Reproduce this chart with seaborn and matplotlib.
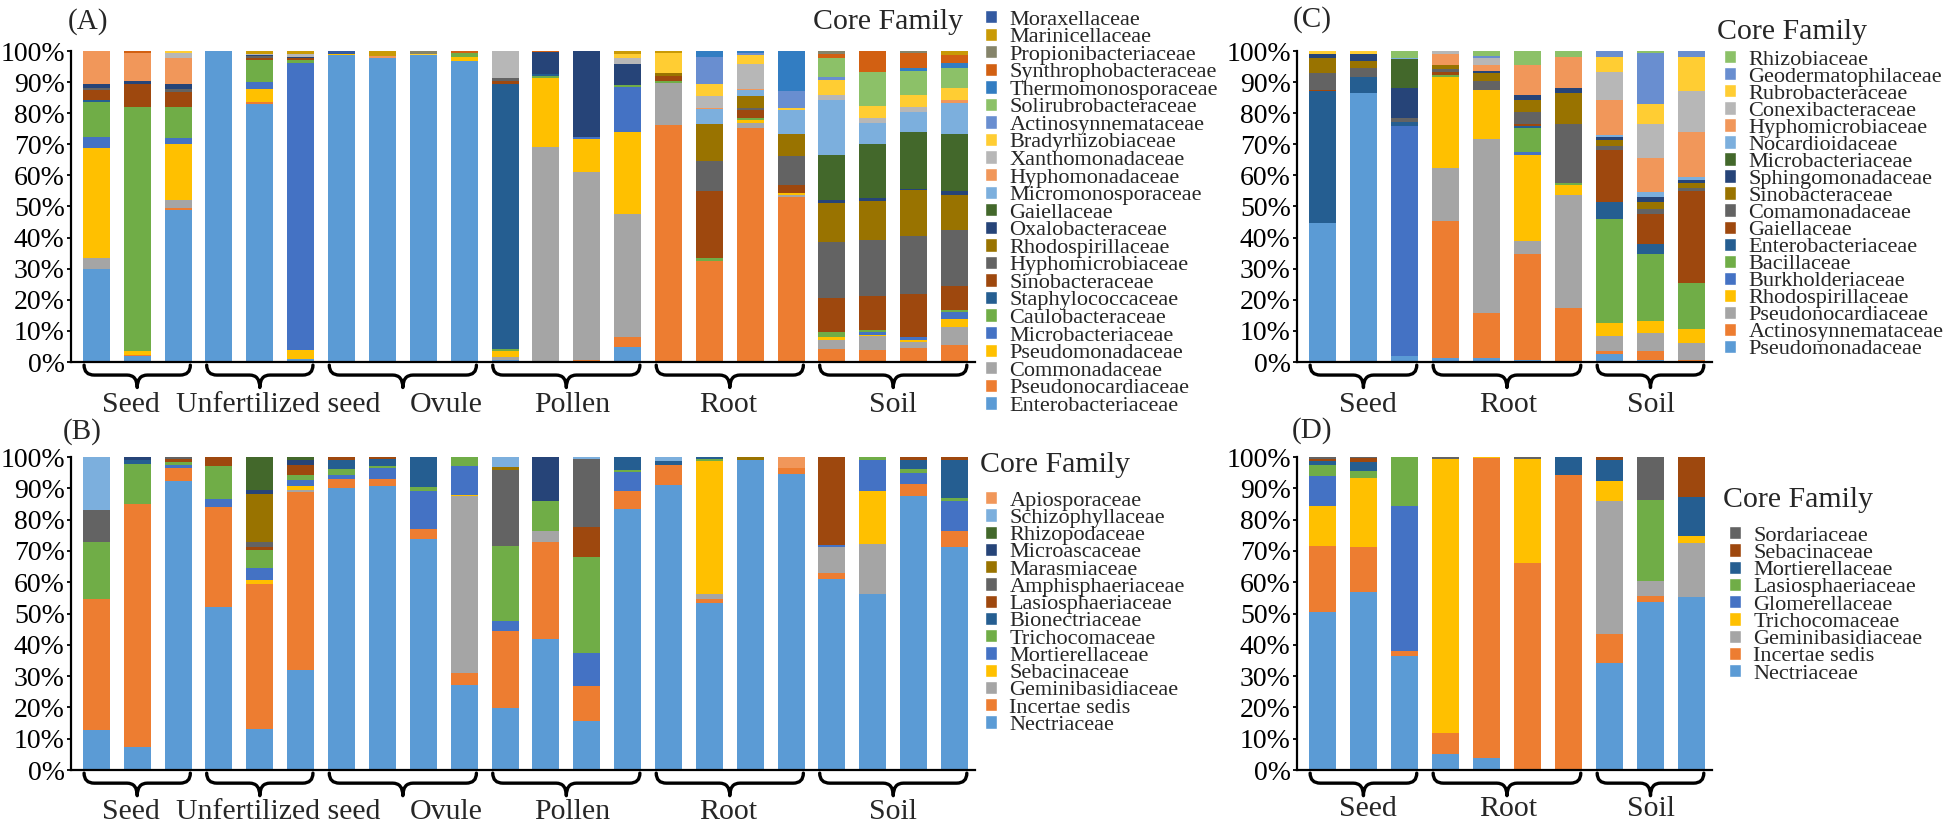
import pandas as pd
import seaborn as sns
import matplotlib.pyplot as plt
from matplotlib.patches import Patch, PathPatch
from matplotlib.path import Path
from matplotlib.transforms import blended_transform_factory

# ---- data (percent of reads), families listed bottom of the stack first ----
# (A) bacteria, 22 samples
bact_all = {
    "Enterobacteriaceae":    [30, 1.8, 49, 100, 82.8, 0.9, 98.6, 97.9, 98.6, 96.7, 0.5, 0, 0, 4.8, 0, 0, 0, 0, 0, 0, 0, 0],
    "Pseudonocardiaceae":    [0, 0.3, 0.6, 0, 0.8, 0, 0, 0, 0, 0, 0, 0, 0.5, 3.2, 76.3, 32.6, 75.4, 52.9, 4.3, 3.8, 4.5, 5.6],
    "Commonadaceae":         [3.4, 0.3, 2.4, 0, 0, 0, 0, 0, 0, 0, 1.0, 69.0, 60.7, 39.7, 13.5, 0, 1.6, 0.8, 2.9, 4.5, 1.8, 5.7],
    "Pseudomonadaceae":      [35.4, 1.2, 18.0, 0, 4.3, 3.1, 0.4, 0, 0, 1.4, 2.0, 22.4, 10.5, 26.1, 0, 0, 0.7, 0.5, 0.8, 0.5, 0.9, 2.6],
    "Microbacteriaceae":     [3.5, 0, 2.0, 0, 2.1, 92.2, 0, 0, 0, 0, 0, 0, 0.8, 14.7, 0, 0, 0, 0, 0, 0.8, 0.8, 2.3],
    "Caulobacteraceae":      [11.3, 78.4, 10.0, 0, 7.2, 0.9, 0, 0, 0, 1.1, 0.8, 0.5, 0, 0.5, 0.5, 0.8, 0.7, 0, 1.7, 0.8, 0, 0.4],
    "Staphylococcaceae":     [0.8, 0, 0, 0, 0, 0, 0, 0, 0, 0, 85.2, 0.6, 0, 0, 0, 0, 0, 0, 0, 0, 0, 0],
    "Sinobacteraceae":       [3.0, 7.5, 4.8, 0, 0.6, 0.5, 0, 0, 0, 0, 1.0, 0, 0, 0, 1.6, 21.7, 2.7, 2.7, 10.8, 10.9, 14.0, 7.9],
    "Hyphomicrobiaceae":     [0.8, 0, 1.1, 0, 0.5, 0, 0, 0, 0, 0, 0.8, 0, 0, 0, 0, 9.4, 0.5, 9.2, 18.0, 18.0, 18.5, 18.0],
    "Rhodospirillaceae":     [0, 0, 0, 0, 0, 0, 0, 0, 0, 0, 0, 0, 0, 0, 0.9, 11.9, 4.0, 7.2, 12.7, 12.4, 14.8, 11.3],
    "Oxalobacteraceae":      [1.2, 0.9, 1.4, 0, 0.4, 0.5, 0, 0, 0, 0, 0, 7.2, 27.5, 6.9, 0, 0, 0, 0, 0.8, 0.9, 0.4, 1.2],
    "Gaiellaceae":           [0, 0, 0, 0, 0, 0, 0, 0, 0, 0, 0, 0, 0, 0, 0, 0, 0, 0, 14.5, 17.5, 18.1, 18.2],
    "Micromonosporaceae":    [0, 0, 0, 0, 0, 0, 0, 0, 0, 0, 0, 0, 0, 0, 0, 4.8, 1.7, 7.7, 17.9, 6.9, 6.5, 10.0],
    "Hyphomonadaceae":       [10.6, 9.0, 8.3, 0, 0, 0, 0, 0.5, 0, 0, 0, 0, 0, 0, 0, 0.5, 0.5, 0, 0, 0, 0, 1.1],
    "Xanthomonadaceae":      [0, 0, 1.8, 0, 0.3, 0.8, 0, 0, 0, 0, 8.7, 0, 0, 1.9, 0, 3.8, 8.0, 0, 1.6, 1.6, 1.6, 0],
    "Bradyrhizobiaceae":     [0, 0, 0.6, 0, 0, 0, 0, 0, 0.4, 0, 0, 0, 0, 1.1, 6.7, 3.8, 2.8, 0.7, 4.8, 3.6, 3.8, 3.8],
    "Actinosynnemataceae":   [0, 0, 0, 0, 0, 0, 0, 0, 0, 0, 0, 0, 0, 0, 0, 8.9, 0.8, 5.4, 0.9, 0, 0, 0],
    "Solirubrobacteraceae":  [0, 0, 0, 0, 0, 0, 0, 0, 0, 0, 0, 0, 0, 0, 0, 0, 0, 0, 5.9, 11.0, 7.9, 6.5],
    "Thermomonosporaceae":   [0, 0, 0, 0, 0, 0, 0, 0, 0, 0, 0, 0, 0, 0, 0, 1.8, 0.6, 12.9, 0, 0, 0.8, 1.4],
    "Synthrophobacteraceae": [0, 0.6, 0, 0, 0, 0, 0, 0, 0, 0.8, 0, 0.3, 0, 0, 0, 0, 0, 0, 1.3, 6.8, 4.8, 2.8],
    "Propionibacteriaceae":  [0, 0, 0, 0, 0, 0, 0, 0, 1.0, 0, 0, 0, 0, 0, 0, 0, 0, 0, 1.1, 0, 0.8, 0],
    "Marinicellaceae":       [0, 0, 0, 0, 1.0, 1.1, 0, 1.6, 0, 0, 0, 0, 0, 1.1, 0.5, 0, 0, 0, 0, 0, 0, 1.2],
    "Moraxellaceae":         [0, 0, 0, 0, 0, 0, 1.0, 0, 0, 0, 0, 0, 0, 0, 0, 0, 0, 0, 0, 0, 0, 0],
}

# (B) fungi, 22 samples
fungi_all = {
    "Nectriaceae":        [12.8, 7.2, 92.2, 52.2, 13.0, 32.0, 90.1, 90.8, 73.8, 27.2, 19.7, 42.0, 15.6, 83.4, 91.1, 53.2, 99.1, 94.7, 61.0, 56.1, 87.4, 71.2],
    "Incertae sedis":     [41.9, 77.7, 4.3, 31.8, 46.5, 56.7, 3.0, 2.2, 3.2, 3.9, 24.7, 31.0, 11.1, 5.8, 6.4, 1.3, 0, 1.8, 2.0, 0, 4.0, 5.2],
    "Geminibasidiaceae":  [0, 0, 0, 0, 0, 0.9, 0, 0, 0, 56.3, 0, 3.4, 0, 0, 0, 1.6, 0, 0, 8.3, 16.1, 0, 0],
    "Sebacinaceae":       [0, 0, 0, 0, 1.1, 1.1, 0, 0, 0, 0.5, 0, 0, 0, 0, 0, 42.5, 0, 0, 0, 16.8, 0, 0],
    "Mortierellaceae":    [0, 0, 1.1, 2.7, 3.9, 1.8, 1.0, 3.6, 12.0, 9.1, 3.3, 0, 10.8, 6.0, 0, 0, 0, 0, 0.5, 9.9, 3.5, 9.4],
    "Trichocomaceae":     [18.0, 12.9, 0.7, 10.3, 5.9, 1.9, 2.1, 0.6, 1.4, 3.0, 23.9, 9.6, 30.7, 0.5, 0, 0.7, 0, 0, 0, 1.1, 1.3, 1.1],
    "Bionectriaceae":     [0, 1.1, 0, 0, 0, 0, 3.0, 2.2, 9.6, 0, 0, 0, 0, 4.3, 1.3, 0.7, 0, 0, 0, 0, 3.0, 12.3],
    "Lasiosphaeriaceae":  [0, 0, 1.1, 3.0, 0.7, 3.2, 0.8, 0.6, 0, 0, 0, 0, 9.4, 0, 0, 0, 0, 0, 28.2, 0, 0.8, 0.8],
    "Amphisphaeriaceae":  [10.4, 0, 0.6, 0, 1.6, 0, 0, 0, 0, 0, 24.4, 0, 21.9, 0, 0, 0, 0, 0, 0, 0, 0, 0],
    "Marasmiaceae":       [0, 0, 0, 0, 15.5, 0, 0, 0, 0, 0, 0.7, 0, 0, 0, 0, 0, 0.9, 0, 0, 0, 0, 0],
    "Microascaceae":      [0, 1.1, 0, 0, 1.4, 1.4, 0, 0, 0, 0, 0, 14.0, 0, 0, 0, 0, 0, 0, 0, 0, 0, 0],
    "Rhizopodaceae":      [0, 0, 0, 0, 10.4, 1.0, 0, 0, 0, 0, 0, 0, 0, 0, 0, 0, 0, 0, 0, 0, 0, 0],
    "Schizophyllaceae":   [16.9, 0, 0, 0, 0, 0, 0, 0, 0, 0, 3.3, 0, 0.5, 0, 1.2, 0, 0, 0, 0, 0, 0, 0],
    "Apiosporaceae":      [0, 0, 0, 0, 0, 0, 0, 0, 0, 0, 0, 0, 0, 0, 0, 0, 0, 3.5, 0, 0, 0, 0],
}

# (C) bacteria, 10 samples
bact_sub = {
    "Pseudomonadaceae":    [44.6, 86.6, 1.8, 1.3, 1.3, 0.5, 0.3, 2.7, 0.8, 0.3],
    "Actinosynnemataceae": [0, 0, 0, 44.0, 14.4, 34.2, 17.1, 0.8, 2.7, 0.3],
    "Pseudonocardiaceae":  [0, 0, 0, 17.1, 56.1, 4.3, 36.4, 4.8, 5.9, 5.5],
    "Rhodospirillaceae":   [0, 0, 0, 29.3, 15.8, 27.6, 3.1, 4.1, 3.8, 4.4],
    "Burkholderiaceae":    [0, 0, 74.1, 0, 0, 0.9, 0, 0, 0, 0],
    "Bacillaceae":         [0, 0, 0, 0.6, 0, 7.9, 0.6, 33.5, 21.5, 14.9],
    "Enterobacteriaceae":  [42.4, 5.0, 1.4, 0, 0, 0.5, 0, 5.6, 3.2, 0],
    "Gaiellaceae":         [0.6, 0, 0, 0.9, 0, 0.7, 0, 16.7, 9.7, 29.7],
    "Comamonadaceae":      [5.3, 3.0, 1.1, 0.9, 2.7, 3.7, 18.9, 1.1, 1.6, 0.8],
    "Sinobacteraceae":     [4.7, 2.1, 0, 1.3, 2.7, 4.1, 10.2, 2.1, 2.4, 1.6],
    "Sphingomonadaceae":   [1.3, 2.4, 9.6, 0, 0.7, 1.3, 1.4, 0.8, 1.6, 1.1],
    "Microbacteriaceae":   [0, 0, 9.3, 0, 0, 0, 0, 0, 0, 0],
    "Nocardioidaceae":     [0, 0, 0.5, 0, 0, 0, 0, 0.8, 1.4, 0.9],
    "Hyphomicrobiaceae":   [0, 0, 0, 3.5, 1.9, 9.9, 10.1, 11.4, 11.0, 14.4],
    "Conexibacteraceae":   [0, 0, 0, 1.1, 2.0, 0, 0, 8.8, 10.8, 13.3],
    "Rubrobacteraceae":    [1.1, 0.9, 0, 0, 0, 0, 0, 4.8, 6.6, 10.9],
    "Geodermatophilaceae": [0, 0, 0, 0, 0.7, 0, 0, 2.0, 16.2, 1.9],
    "Rhizobiaceae":        [0, 0, 2.2, 0, 1.7, 4.4, 1.9, 0, 0.8, 0],
}

# (D) fungi, 10 samples
fungi_sub = {
    "Nectriaceae":       [50.6, 57.0, 36.5, 5.0, 3.7, 0, 0, 34.1, 53.8, 55.3],
    "Incertae sedis":    [21.0, 14.2, 1.6, 6.9, 96.0, 66.1, 94.1, 9.4, 1.8, 0],
    "Geminibasidiaceae": [0, 0, 0, 0, 0, 0, 0, 42.3, 4.8, 17.3],
    "Trichocomaceae":    [12.8, 22.1, 0, 87.4, 0.3, 33.3, 0, 6.4, 0, 2.1],
    "Glomerellaceae":    [9.4, 0, 46.2, 0, 0, 0, 0, 0, 0, 0],
    "Lasiosphaeriaceae": [3.7, 2.1, 15.7, 0, 0, 0, 0, 0, 25.9, 0],
    "Mortierellaceae":   [1.3, 2.9, 0, 0, 0, 0, 5.9, 6.9, 0, 12.4],
    "Sebacinaceae":      [0.5, 1.4, 0, 0, 0, 0, 0, 0.9, 0, 12.9],
    "Sordariaceae":      [0.6, 0.3, 0, 0.7, 0, 0.6, 0, 0, 13.7, 0],
}

groups_all = ["Seed", "Unfertilized seed", "Ovule", "Pollen", "Root", "Soil"]
spans_all = [(0, 2), (3, 5), (6, 9), (10, 13), (14, 17), (18, 21)]
label_x_all = [0.85, 4.44, 8.55, 11.65, 15.47, 19.5]

groups_sub = ["Seed", "Root", "Soil"]
spans_sub = [(0, 2), (3, 6), (7, 9)]
label_x_sub = [1.12, 4.52, 8.02]

# excel-style series colours, in stacking order
pal = ["#5B9BD5", "#ED7D31", "#A5A5A5", "#FFC000", "#4472C4", "#70AD47",
       "#255E91", "#9E480E", "#636363", "#997300", "#264478", "#43682B",
       "#7CAFDD", "#F1975A", "#B7B7B7", "#FFCD33", "#698ED0", "#8CC168",
       "#327DC2", "#D26012", "#85846A", "#C99A06", "#335AA1"]

sns.set_style("white")
plt.rcParams["font.family"] = ["Liberation Serif", "DejaVu Serif"]

W, H = 1946, 822
fig = plt.figure(figsize=(W / 100, H / 100), dpi=100)


def px_axes(left, top, right, bottom):
    return fig.add_axes([left / W, 1 - bottom / H, (right - left) / W, (bottom - top) / H])


def brace(ax, x0, x1):
    tr = blended_transform_factory(ax.transData, ax.transAxes)
    xm = (x0 + x1) / 2
    r = 0.25
    y0, y1, y2 = -0.01, -0.042, -0.082
    verts = [(x0, y0), (x0, y1), (x0 + r, y1),
             (xm - r, y1), (xm, y1), (xm, y2),
             (xm, y1), (xm + r, y1),
             (x1 - r, y1), (x1, y1), (x1, y0)]
    codes = [Path.MOVETO, Path.CURVE3, Path.CURVE3,
             Path.LINETO, Path.CURVE3, Path.CURVE3,
             Path.CURVE3, Path.CURVE3,
             Path.LINETO, Path.CURVE3, Path.CURVE3]
    ax.add_patch(PathPatch(Path(verts, codes), transform=tr, fill=False,
                           lw=2.4, color="black", clip_on=False,
                           capstyle="round", joinstyle="round"))


def panel(ax, table, groups, spans, label_x, label_y):
    fams = list(table)
    colors = dict(zip(fams, pal))
    rows = []
    for fam, vals in table.items():
        for i, v in enumerate(vals):
            rows.append((i, fam, v))
    df = pd.DataFrame(rows, columns=["sample", "family", "pct"])

    sns.histplot(data=df, x="sample", weights="pct", hue="family",
                 hue_order=fams[::-1], multiple="stack", discrete=True,
                 shrink=0.66, palette=colors, alpha=1, linewidth=0,
                 legend=False, ax=ax)

    n = len(table[fams[0]])
    ax.set_xlim(-0.62, n - 0.5)
    ax.set_ylim(0, 100)
    ax.set_xticks([])
    ax.set_yticks(range(0, 101, 10))
    ax.yaxis.set_major_formatter(lambda v, p: f"{v:.0f}%")
    ax.tick_params(axis="y", left=True, length=3, width=1.3, pad=1.5,
                   labelsize=20, colors="black")
    ax.set_xlabel("")
    ax.set_ylabel("")
    ax.spines[["top", "right"]].set_visible(False)
    for s in ["left", "bottom"]:
        ax.spines[s].set_color("black")
        ax.spines[s].set_linewidth(1.6)

    tr = blended_transform_factory(ax.transData, ax.transAxes)
    for (a, b), name, lx in zip(spans, groups, label_x):
        brace(ax, a - 0.3, b + 0.3)
        ax.text(lx, label_y, name, transform=tr, ha="center", va="center",
                fontsize=21.5)
    return [Patch(facecolor=colors[f]) for f in fams[::-1]], fams[::-1]


def legend(ax, handles, labels, x, y, step):
    fs = 16
    fpx = fs * 100 / 72
    ax.legend(handles, labels, loc="upper left",
              bbox_to_anchor=(x / W, 1 - y / H), bbox_transform=fig.transFigure,
              frameon=False, borderpad=0, borderaxespad=0, fontsize=fs,
              handlelength=0.55, handleheight=0.55, handletextpad=0.55,
              labelspacing=step / fpx - 0.891)


ax_a = px_axes(71, 51, 975, 362)
ax_b = px_axes(71, 457, 975, 770)
ax_c = px_axes(1297, 51, 1712, 362)
ax_d = px_axes(1297, 457, 1712, 770)

h, l = panel(ax_a, bact_all, groups_all, spans_all, label_x_all, -0.138)
legend(ax_a, h, l, 985, 10, 17.8)
h, l = panel(ax_b, fungi_all, groups_all, spans_all, label_x_all, -0.134)
legend(ax_b, h, l, 985, 491, 17.5)
h, l = panel(ax_c, bact_sub, groups_sub, spans_sub, label_x_sub, -0.138)
legend(ax_c, h, l, 1724, 50, 17.3)
h, l = panel(ax_d, fungi_sub, groups_sub, spans_sub, label_x_sub, -0.125)
legend(ax_d, h, l, 1729, 526, 17.5)

for txt, x, y in [("Core Family", 813, 22), ("Core Family", 980, 465),
                  ("Core Family", 1717, 32), ("Core Family", 1723, 500)]:
    fig.text(x / W, 1 - y / H, txt, ha="left", va="center", fontsize=21.5)

for txt, x, y in [("(A)", 68, 22), ("(B)", 63, 432), ("(C)", 1293, 20), ("(D)", 1292, 431)]:
    fig.text(x / W, 1 - y / H, txt, ha="left", va="center", fontsize=21)

fig.savefig("out.png", dpi=100)
